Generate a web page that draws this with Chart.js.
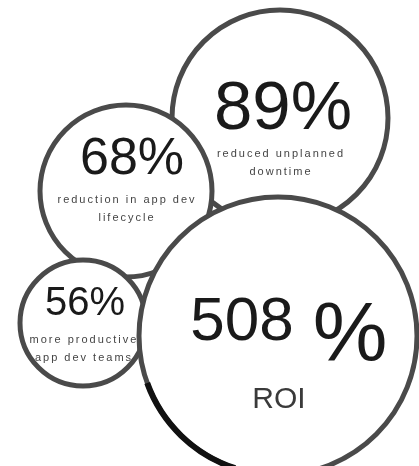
<!DOCTYPE html>
<html>
<head>
<meta charset="utf-8">
<script src="https://cdn.jsdelivr.net/npm/chart.js@4"></script>
<style>
    body { margin: 0; background: #fff; }
    canvas { display: block; }
</style>
</head>
<body>
<canvas id="bubble-chart" width="419" height="466"></canvas>
<script>
const captions = [
    ['reduced unplanned', 'downtime'],
    ['reduction in app dev', 'lifecycle'],
    ['more productive', 'app dev teams'],
    ['ROI']
];
const values = [89, 68, 56, 508];
const bubbleX = [280, 126, 83, 278];
const bubbleY = [118, 191, 323, 336];
const bubbleR = [108, 86, 63, 139];

const FONT = '"Liberation Sans", Arial, sans-serif';

// text layout for each bubble, relative to its centre
const textStyle = [
    { dx: 3, base: 11, size: 69, capY: [36, 54] },
    { dx: 6, base: -17, size: 52, capY: [9, 27] },
    { dx: 2, base: -8, size: 40, capY: [17, 35] },
    { dx: -36, base: 4, size: 62, pctDx: 72, pctBase: 25, pctSize: 84, capY: [64], capSize: 30 }
];

const bubbleText = {
    id: 'bubbleText',
    afterDatasetsDraw(chart) {
        const ctx = chart.ctx;
        const meta = chart.getDatasetMeta(0);
        ctx.save();
        meta.data.forEach((pt, i) => {
            const s = textStyle[i];
            ctx.textAlign = 'center';
            ctx.fillStyle = '#1a1a1a';
            ctx.textBaseline = 'alphabetic';
            ctx.letterSpacing = '0px';
            if (s.pctSize) {
                ctx.font = s.size + 'px ' + FONT;
                ctx.fillText(String(values[i]), pt.x + s.dx, pt.y + s.base);
                ctx.font = s.pctSize + 'px ' + FONT;
                ctx.fillText('%', pt.x + s.pctDx, pt.y + s.pctBase);
            } else {
                ctx.font = s.size + 'px ' + FONT;
                ctx.fillText(values[i] + '%', pt.x + s.dx, pt.y + s.base);
            }
            ctx.textBaseline = 'middle';
            if (s.capSize) {
                ctx.fillStyle = '#3a3a3a';
                ctx.font = s.capSize + 'px ' + FONT;
            } else {
                ctx.fillStyle = '#444';
                ctx.font = '11px ' + FONT;
                ctx.letterSpacing = '2px';
            }
            captions[i].forEach((line, j) => {
                ctx.fillText(line, pt.x + 1, pt.y + s.capY[j]);
            });
        });
        // darker stroke on the lower left of the big circle
        const big = meta.data[3];
        ctx.beginPath();
        ctx.arc(big.x, big.y, bubbleR[3], Math.PI * 0.6, Math.PI * 0.89);
        ctx.lineWidth = 6;
        ctx.strokeStyle = '#111';
        ctx.stroke();
        ctx.restore();
    }
};

const bubbleData = {
    datasets: [{
        label: 'Results',
        data: values.map((v, i) => ({ x: bubbleX[i], y: bubbleY[i], r: bubbleR[i] })),
        backgroundColor: '#fff',
        borderColor: '#4a4a4a',
        borderWidth: 5,
        hoverRadius: 0,
        clip: false
    }]
};

const bubbleConfig = {
    type: 'bubble',
    data: bubbleData,
    options: {
        responsive: false,
        animation: false,
        events: [],
        layout: { padding: 0, autoPadding: false },
        plugins: {
            legend: { display: false },
            tooltip: { enabled: false }
        },
        scales: {
            x: { type: 'linear', min: 0, max: 419, display: false },
            y: { type: 'linear', min: 0, max: 466, reverse: true, display: false }
        }
    },
    plugins: [bubbleText]
};

const bubbleChart = new Chart(
    document.getElementById('bubble-chart'),
    bubbleConfig
);
</script>
</body>
</html>
